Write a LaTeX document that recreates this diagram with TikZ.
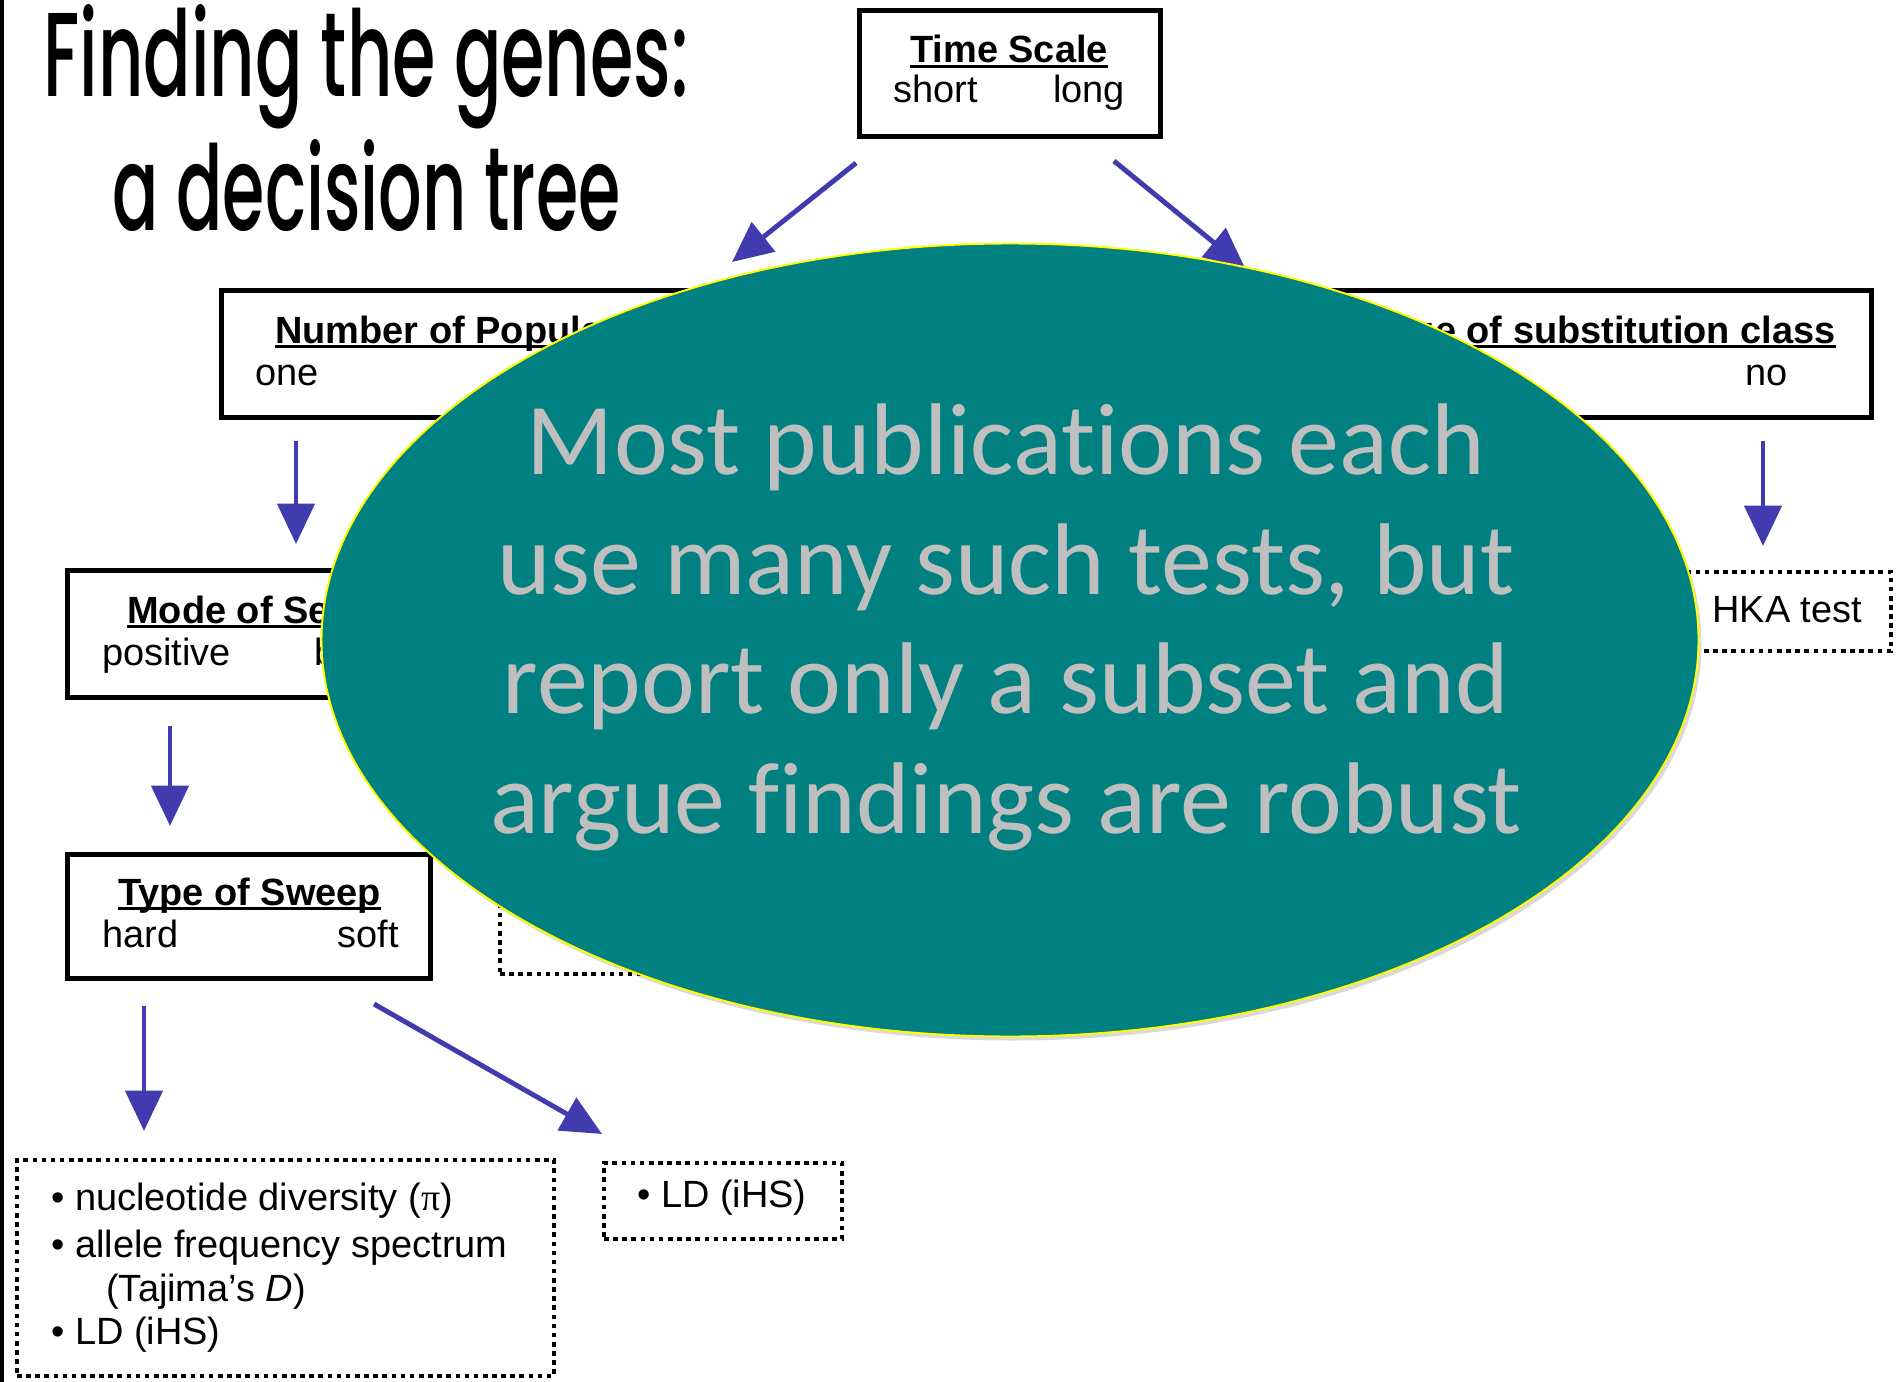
\documentclass[tikz,border=0pt]{standalone}
\usepackage{fontspec}
\setmainfont{Liberation Sans}
\IfFontExistsTF{Poppins Medium}
  {\newfontfamily\titlefont{Poppins Medium}}
  {\newfontfamily\titlefont[FakeBold=1.2]{Poppins}}
\newfontfamily\ovfont[Ligatures=NoCommon]{Carlito}
\newfontfamily\greekfont{Liberation Serif}
\usetikzlibrary{arrows.meta,shapes.geometric}

% one drawing unit
\newlength\pu
\setlength\pu{0.02cm}

\definecolor{flowblue}{RGB}{64,60,176}
\definecolor{ovalteal}{RGB}{0,128,128}
\definecolor{ovaltext}{RGB}{191,191,191}
\definecolor{ovalrim}{RGB}{255,255,0}

% bold heading with an underline that runs through the descenders
\newsavebox\headbox
\newcommand\ulhead[1]{%
  \sbox\headbox{\bfseries #1}%
  \rlap{\rule[-0.14em]{\wd\headbox}{0.075em}}\usebox\headbox}

\tikzset{
  box/.style={draw, line width=2.8pt, inner sep=0pt, fill=white},
  dotbox/.style={draw, line width=2.7pt, dash pattern=on 2.6pt off 2.6pt, inner sep=0pt},
  lbl/.style={font=\fontsize{21.6}{26}\selectfont, inner sep=0pt},
  flow/.style={draw=flowblue, line width=2.8pt,
    -{Triangle[length=23pt,width=21pt]}},
  ovaltxt/.style={font=\ovfont\fontsize{58}{68}\selectfont, text=ovaltext,
    inner sep=0pt, anchor=base},
}

\begin{document}
\begin{tikzpicture}[x=0.02cm, y=-0.02cm]
\useasboundingbox (0,0) rectangle (1896,1382);
\fill[white] (0,0) rectangle (1896,1382);
\fill[black] (0,0) rectangle (4,1382);

% title
\node[anchor=base west, inner sep=0pt] (title1) at (43,97)
  {\resizebox{645\pu}{92\pu}{\titlefont Finding the genes:}};
\node[anchor=base west, inner sep=0pt] (title2) at (112,231)
  {\resizebox{508\pu}{91\pu}{\titlefont a decision tree}};

% decision boxes
\node[box, minimum width=301\pu, minimum height=126\pu] (time) at (1010,73.5) {};
\node[box, minimum width=558\pu, minimum height=127\pu] (pops) at (500.75,354) {};
\node[box, minimum width=621\pu, minimum height=127\pu] (subst) at (1560.75,354) {};
\node[box, minimum width=412\pu, minimum height=127\pu] (mode) at (273.75,634) {};
\node[box, minimum width=363\pu, minimum height=124\pu] (sweep) at (249,916.5) {};

% test boxes
\node[dotbox, minimum width=251\pu, minimum height=79\pu] (hka) at (1765.5,611.5) {};
\node[dotbox, minimum width=400\pu, minimum height=124\pu] (balance) at (700,912) {};
\node[dotbox, minimum width=238\pu, minimum height=76\pu] (softtests) at (723,1201) {};
\node[dotbox, minimum width=537\pu, minimum height=216\pu] (hardtests) at (285.5,1268) {};

% box texts
\node[lbl, anchor=base] (timeh) at (1009,63) {\ulhead{Time Scale}};
\node[lbl, anchor=base west] (short) at (893,103) {short};
\node[lbl, anchor=base west] (long) at (1053,103) {long};

\node[lbl, anchor=base west] (popsh) at (275,343) {\ulhead{Number of Populations}};
\node[lbl, anchor=base west] (one) at (255,385) {one};

\node[lbl, anchor=base east] (substh) at (1836,343) {\ulhead{Knowledge of substitution class}};
\node[lbl, anchor=base west] (no) at (1745,385) {no};

\node[lbl, anchor=base west] (modeh) at (127,623) {\ulhead{Mode of Selection}};
\node[lbl, anchor=base west] (positive) at (102,665) {positive};
\node[lbl, anchor=base west] (balancing) at (314,665) {balancing};

\node[lbl, anchor=base] (sweeph) at (249.5,905) {\ulhead{Type of Sweep}};
\node[lbl, anchor=base west] (hard) at (102,947) {hard};
\node[lbl, anchor=base east] (soft) at (399,947) {soft};

\node[lbl, anchor=base west] (hkat) at (1712,622) {HKA test};
\node[lbl, anchor=base west] (ldsoft) at (637,1207) {\textbullet\ LD (iHS)};
\node[lbl, anchor=base west] (pi) at (51,1210) {\textbullet\ nucleotide diversity ({\greekfont π})};
\node[lbl, anchor=base west] (afs) at (51,1257) {\textbullet\ allele frequency spectrum};
\node[lbl, anchor=base west] (tajima) at (106,1301) {(Tajima’s \textit{D})};
\node[lbl, anchor=base west] (ldhard) at (51,1344) {\textbullet\ LD (iHS)};

% connectors
\coordinate (t2p) at (856,163);   \coordinate (t2pend) at (732,262);
\coordinate (t2s) at (1114,161);  \coordinate (t2send) at (1245,268);
\coordinate (p2m) at (296,441);   \coordinate (p2mend) at (296,544);
\coordinate (s2h) at (1763,441);  \coordinate (s2hend) at (1763,546);
\coordinate (m2w) at (170,726);   \coordinate (m2wend) at (170,826);
\coordinate (w2h) at (144,1006);  \coordinate (w2hend) at (144,1131);
\coordinate (w2s) at (374,1004);  \coordinate (w2send) at (602,1134);

\draw[flow] (t2p) -- (t2pend);
\draw[flow] (t2s) -- (t2send);
\draw[flow] (p2m) -- (p2mend);
\draw[flow] (s2h) -- (s2hend);
\draw[flow] (m2w) -- (m2wend);
\draw[flow] (w2h) -- (w2hend);
\draw[flow] (w2s) -- (w2send);

% overlay oval with its message
\node[ellipse, fill=black, opacity=0.15, minimum width=1377\pu, minimum height=793\pu,
  inner sep=0pt] (ovalshade) at (1013,644) {};
\node[ellipse, draw=ovalrim, line width=1.1pt, fill=ovalteal,
  minimum width=1377\pu, minimum height=793\pu, inner sep=0pt] (oval) at (1010,640) {};
\node[ovaltxt] (msg1) at (1006,474) {Most publications each};
\node[ovaltxt] (msg2) at (1006,594) {use many such tests, but};
\node[ovaltxt] (msg3) at (1006,713) {report only a subset and};
\node[ovaltxt] (msg4) at (1006,833) {argue findings are robust};
\end{tikzpicture}
\end{document}
